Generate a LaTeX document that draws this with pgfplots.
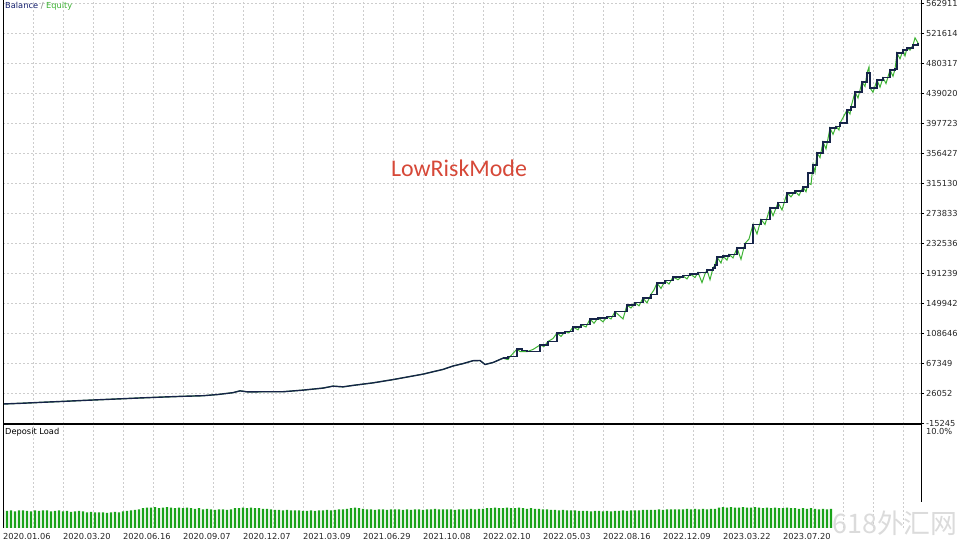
\documentclass[border=0pt]{standalone}
\usepackage{pgfplots}
\pgfplotsset{compat=1.18}
\usepackage{pgfplotstable}
\usepackage{fontspec}
\setmainfont{DejaVu Sans}
\newfontfamily\modefont{Carlito}
\newfontfamily\cjk{Noto Sans CJK SC}

\definecolor{balance}{RGB}{22,36,72}
\definecolor{equity}{RGB}{60,178,50}
\definecolor{loadc}{RGB}{26,163,26}
\definecolor{gridc}{RGB}{205,205,205}
\definecolor{mode}{RGB}{214,72,56}

% balance (x = deal position along the chart)
\pgfplotstableread{
x bal
0 10900
20 12000
40 13300
60 14500
80 15800
100 17000
120 18200
140 19400
160 20500
180 21500
200 22300
215 24000
230 26500
237 29000
245 27500
260 27800
280 27800
300 30000
320 32800
330 35500
340 34500
350 36500
370 40000
390 44500
400 47000
420 52000
430 55300
440 58500
450 63200
460 66500
470 70500
477 70800
482 65300
490 68000
500 74000
505 76000
514 86600
519 84500
524 82900
537 92100
545 97000
554 108600
562 110500
570 116900
578 120000
587 127900
595 129500
604 131100
612 138000
624 147200
632 150500
640 156800
648 162000
654 177500
662 180500
670 185700
680 187500
687 189900
695 192000
704 195400
710 198000
712 202300
714 213000
720 214500
726 217000
734 225700
742 232000
750 258000
758 265000
767 280700
775 288000
784 301400
792 304000
800 309600
805 328900
810 339900
814 356400
820 371600
827 390800
833 393000
837 397700
844 415600
848 420000
852 440400
859 454200
864 466600
867 445900
874 456900
880 460000
887 470700
892 472000
894 494100
900 498000
904 501000
910 505000
915 507900
}\baltable

% equity
\pgfplotstableread{
x eq
0 10900
20 12000
40 13300
60 14500
80 15800
100 17000
120 18200
140 19400
160 20500
180 21500
200 22300
215 24000
230 26500
237 29000
245 27500
260 27800
280 27800
300 30000
320 32800
330 35500
340 34500
350 36500
370 40000
390 44500
400 47000
420 52000
430 55300
440 58500
450 63200
460 66500
470 70500
477 70800
482 65300
490 68000
500 74000
505 72000
507 76000
514 86600
517 83000
524 82900
530 86000
537 92100
541 90000
545 97000
550 101000
554 108600
558 104000
562 110500
566 109000
570 116900
575 113000
578 120000
583 117000
587 127900
591 122000
595 129500
600 124000
604 131100
608 128000
612 138000
616 133000
620 128000
624 147200
628 143000
632 150500
636 146000
640 156800
644 150000
648 162000
651 168000
654 177500
658 170000
662 180500
666 176000
670 185700
675 182000
680 187500
684 183000
687 189900
692 185000
695 192000
699 178000
702 190000
704 195400
707 182000
710 198000
712 202300
714 213000
718 205000
720 214500
724 209000
726 217000
730 212000
734 225700
738 210000
742 232000
746 238000
750 258000
754 245000
758 265000
762 258000
767 280700
770 270000
775 288000
779 278000
784 301400
788 296000
792 304000
796 298000
800 309600
803 303000
805 315000
808 313000
810 339900
812 330000
814 356400
817 350000
820 371600
823 362000
827 390800
830 382000
833 393000
836 388000
837 397700
840 405000
844 415600
847 410000
848 420000
850 430000
852 440400
855 432000
859 454200
862 448000
864 466600
866 475000
867 445900
870 440000
874 456900
877 447000
880 460000
883 452000
887 470700
890 462000
892 472000
894 494100
897 486000
900 498000
902 490000
904 501000
907 498000
910 505000
912 515000
915 507900
}\eqtable

% deposit load in percent, one bar every 4 units from x = 0
\pgfplotstableread[row sep=\\]{
load\\
1.7\\1.65\\1.7\\1.6\\1.7\\1.7\\1.65\\1.6\\1.7\\1.65\\1.7\\1.7\\1.6\\1.65\\1.7\\
1.6\\1.65\\1.55\\1.6\\1.65\\1.6\\1.5\\1.55\\1.5\\1.5\\
1.5\\1.45\\1.5\\1.55\\1.5\\1.6\\1.65\\1.7\\1.75\\1.8\\
1.9\\1.95\\1.95\\2.0\\1.9\\1.95\\2.0\\1.95\\1.9\\1.95\\1.9\\1.95\\1.9\\1.85\\1.9\\
1.8\\1.85\\1.8\\1.75\\1.8\\1.8\\1.75\\1.8\\
1.9\\1.9\\1.95\\1.9\\1.95\\1.9\\1.9\\1.85\\1.85\\1.8\\
1.75\\1.75\\1.7\\1.75\\1.7\\1.7\\1.7\\
1.65\\1.65\\1.7\\1.65\\1.7\\1.7\\1.75\\1.7\\1.75\\1.8\\1.8\\1.85\\
1.9\\1.95\\1.9\\1.85\\
1.8\\1.8\\1.75\\1.8\\1.8\\1.75\\1.8\\1.8\\1.8\\1.75\\1.8\\1.75\\1.8\\1.8\\1.75\\
1.8\\1.8\\1.85\\1.8\\1.8\\1.8\\1.8\\1.75\\1.8\\1.8\\1.8\\1.85\\1.8\\1.85\\
1.85\\1.9\\1.9\\1.95\\1.9\\1.9\\1.95\\1.9\\1.9\\1.95\\1.9\\1.85\\1.9\\1.85\\1.85\\1.8\\1.8\\
1.75\\1.75\\1.7\\1.75\\1.7\\1.7\\1.7\\
1.65\\1.65\\1.65\\1.6\\1.65\\1.65\\1.6\\1.65\\1.6\\1.65\\1.65\\1.7\\1.65\\1.7\\1.7\\1.7\\1.75\\1.75\\
1.75\\1.75\\1.8\\1.75\\1.8\\1.8\\1.8\\1.8\\
1.8\\1.85\\1.8\\1.85\\1.8\\1.85\\1.8\\1.85\\1.85\\
1.95\\2.0\\1.95\\2.0\\1.95\\1.95\\2.0\\1.95\\1.95\\2.0\\1.95\\1.9\\
1.95\\1.9\\1.95\\1.9\\1.9\\1.95\\1.9\\1.9\\1.85\\1.9\\1.85\\1.9\\
1.85\\1.8\\1.85\\1.8\\1.85\\
}\loadtable

\pgfplotsset{
  mt/.style={
    scale only axis, anchor=south west,
    xmin=0, xmax=918,
    axis line style={draw=none},
    clip mode=individual,
    grid style={gridc, dash pattern=on 2bp off 2bp, line width=0.6bp},
    xtick style={draw=none},
    ytick pos=right, yticklabel pos=right,
    tick align=outside, major tick length=3bp,
    ticklabel style={font=\fontsize{8.3}{10}\selectfont, text=black!85},
  }
}

\begin{document}
\begin{tikzpicture}
\begin{axis}[mt,
  at={(3bp,117bp)}, width=918bp, height=424bp,
  ymin=-16622, ymax=567044,
  xtick={30,60,...,900}, xticklabels={},
  grid=major,
  ytick={-15245,26052,67349,108646,149942,191239,232536,273833,315130,356427,397723,439020,480317,521614,562911},
  yticklabels={-15245,26052,67349,108646,149942,191239,232536,273833,315130,356427,397723,439020,480317,521614,562911},
  ytick style={black, line width=0.6bp},
  yticklabel style={anchor=west, xshift=-1.5bp},
]
\addplot[equity, line width=1bp] table[x=x, y=eq] {\eqtable};
\addplot[balance, line width=1.4bp, restrict x to domain=0:500] table[x=x, y=bal] {\baltable};
\addplot[balance, line width=1.4bp, const plot, restrict x to domain=500:918] table[x=x, y=bal] {\baltable};
\draw[black, line width=0.9bp] (rel axis cs:0,0) -- (rel axis cs:0,1);
\draw[black, line width=0.9bp] (rel axis cs:1,0) -- (rel axis cs:1,1);
\draw[black, line width=1.6bp] (rel axis cs:0,0) -- (rel axis cs:1,0);
\node[anchor=north west, inner sep=0pt, xshift=2bp, yshift=-2bp, font=\fontsize{8.3}{10}\selectfont]
  at (rel axis cs:0,1) {\textcolor{balance!80!blue}{Balance} \textcolor{gray}{/} \textcolor{equity}{Equity}};
\node[text=mode, font=\modefont\fontsize{24}{24}\selectfont] at (axis cs:456,336000) {LowRiskMode};
\end{axis}

\begin{axis}[mt,
  at={(3bp,13bp)}, width=918bp, height=104bp,
  ymin=0, ymax=10,
  xtick={0,30,...,900},
  xticklabels={2020.01.06,,2020.03.20,,2020.06.16,,2020.09.07,,2020.12.07,,2021.03.09,,2021.06.29,,2021.10.08,,2022.02.10,,2022.05.03,,2022.08.16,,2022.12.09,,2023.03.22,,2023.07.20,,,,},
  xticklabel style={anchor=north west, inner xsep=0pt, yshift=1bp},
  xmajorgrids,
  ytick={10}, yticklabels={10.0\%},
  ytick style={draw=none},
  yticklabel style={anchor=north west, xshift=-1.5bp, yshift=-1bp},
  ybar, bar width=2.4,
]
\addplot[fill=loadc, draw=none] table[x expr=\coordindex*4, y=load] {\loadtable};
\draw[black, line width=0.9bp] (rel axis cs:0,0) -- (rel axis cs:0,1);
\draw[black, line width=0.9bp] (rel axis cs:1,0.25) -- (rel axis cs:1,1);
\node[anchor=north west, inner sep=0pt, xshift=2bp, yshift=-4bp, font=\fontsize{8.3}{10}\selectfont]
  at (rel axis cs:0,1) {Deposit Load};
\end{axis}

\node[text=gray!28, font=\cjk\fontsize{27}{27}\selectfont] at (895bp,18bp) {618外汇网};
\pgfresetboundingbox
\path[use as bounding box] (0,0) rectangle (960bp,541bp);
\end{tikzpicture}
\end{document}
